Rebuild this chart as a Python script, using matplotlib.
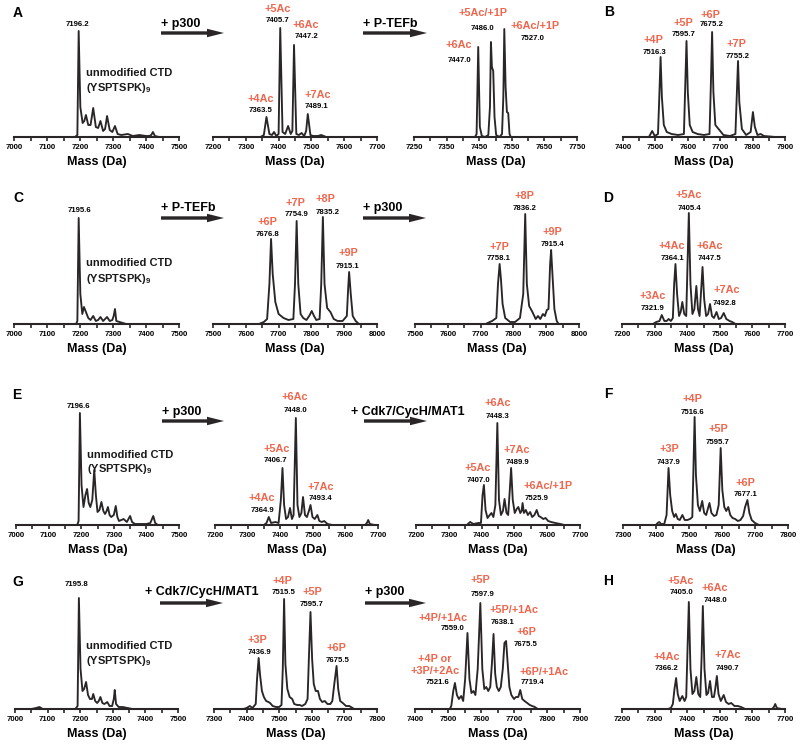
import matplotlib.pyplot as plt
from matplotlib.patches import FancyArrow

plt.rcParams['font.family'] = ['Liberation Sans', 'DejaVu Sans']
plt.rcParams['font.weight'] = 'bold'
plt.rcParams['mathtext.fontset'] = 'custom'
plt.rcParams['mathtext.rm'] = 'Liberation Sans:bold'
plt.rcParams['mathtext.bf'] = 'Liberation Sans:bold'

RED = '#f0664d'
INK = '#2a2627'

# ---- spectra: mass (Da) and relative intensity
a1_mass = [7185, 7192, 7196, 7201, 7208, 7213, 7218, 7225, 7232, 7240, 7248, 7255, 7262, 7270, 7276,
           7282, 7290, 7298, 7306, 7314, 7325, 7345, 7360, 7380, 7400, 7410, 7416, 7421, 7427, 7440]
a1_int = [0, 2, 106, 30, 14, 16, 22, 12, 12, 29, 10, 9, 16, 6, 8,
          21, 7, 5, 11, 3, 2, 3, 1, 2, 1, 1, 2, 5, 1, 0]

a2_mass = [7345, 7355, 7363, 7372, 7380, 7386, 7393, 7400, 7405, 7412, 7420, 7429, 7437, 7442, 7447,
           7454, 7462, 7470, 7478, 7484, 7489, 7497, 7505, 7520, 7530, 7545]
a2_int = [0, 2, 20, 3, 2, 5, 1, 3, 109, 5, 3, 11, 3, 6, 92,
          3, 2, 4, 1, 6, 23, 2, 1, 1, 2, 0]

a3_mass = [7437, 7442, 7447, 7452, 7458, 7468, 7478, 7483, 7486, 7489, 7493, 7497, 7502, 7512,
           7520, 7524, 7527, 7531, 7535, 7539, 7543, 7547]
a3_int = [0, 3, 90, 10, 1, 0, 2, 30, 95, 70, 66, 20, 2, 0,
          3, 40, 108, 50, 25, 24, 3, 0]

b_mass = [7480, 7490, 7498, 7508, 7512, 7516, 7520, 7526, 7535, 7550, 7570, 7588, 7592, 7596, 7600,
          7606, 7615, 7630, 7650, 7667, 7671, 7675, 7679, 7685, 7700, 7710, 7730, 7747, 7751, 7755,
          7759, 7767, 7780, 7794, 7801, 7807, 7815, 7825, 7835, 7870]
b_int = [0, 6, 1, 3, 40, 80, 40, 12, 5, 3, 2, 3, 50, 96, 45,
         12, 5, 3, 2, 3, 50, 105, 45, 12, 6, 2, 1, 3, 40, 76,
         35, 8, 2, 5, 25, 10, 2, 3, 1, 0]

c1_mass = [7188, 7192, 7196, 7201, 7207, 7212, 7218, 7225, 7232, 7240, 7248, 7255, 7262, 7270,
           7276, 7282, 7290, 7298, 7302, 7306, 7310, 7320, 7330, 7340]
c1_int = [0, 3, 106, 30, 10, 17, 12, 6, 4, 8, 3, 4, 7, 3,
          5, 7, 3, 4, 8, 15, 3, 2, 1, 0]

c2_mass = [7640, 7655, 7665, 7672, 7677, 7682, 7690, 7700, 7715, 7730, 7745, 7750, 7755, 7760,
           7767, 7775, 7785, 7795, 7801, 7808, 7815, 7825, 7830, 7835, 7840, 7848, 7858, 7868,
           7880, 7895, 7908, 7912, 7915, 7920, 7926, 7935, 7945]
c2_int = [0, 2, 5, 40, 85, 50, 22, 10, 6, 4, 5, 40, 103, 40,
          10, 6, 4, 9, 13, 8, 4, 5, 40, 107, 40, 16, 12, 5,
          3, 3, 8, 35, 52, 30, 8, 3, 0]

c3_mass = [7715, 7735, 7748, 7753, 7758, 7762, 7767, 7775, 7790, 7805, 7820, 7830, 7836, 7841,
           7848, 7858, 7868, 7875, 7882, 7890, 7896, 7902, 7907, 7912, 7915, 7919, 7925, 7932, 7938]
c3_int = [0, 3, 6, 40, 60, 45, 20, 6, 2, 2, 6, 30, 110, 40,
          18, 12, 5, 8, 5, 10, 8, 14, 15, 60, 74, 50, 15, 3, 0]

d_mass = [7295, 7305, 7315, 7322, 7330, 7337, 7343, 7350, 7356, 7360, 7364, 7369, 7375, 7380,
          7385, 7391, 7397, 7401, 7405, 7410, 7416, 7422, 7428, 7433, 7438, 7443, 7447, 7452,
          7458, 7464, 7470, 7476, 7482, 7490, 7497, 7504, 7512, 7520, 7530, 7538, 7548]
d_int = [0, 2, 3, 9, 3, 3, 5, 3, 6, 40, 60, 30, 8, 12,
         22, 10, 8, 60, 111, 40, 10, 15, 38, 15, 8, 35, 57, 25,
         8, 10, 20, 8, 6, 12, 5, 6, 11, 5, 3, 2, 0]

e1_mass = [7188, 7192, 7196, 7201, 7207, 7213, 7218, 7223, 7228, 7234, 7240, 7245, 7250, 7256,
           7262, 7268, 7273, 7278, 7282, 7287, 7292, 7300, 7306, 7311, 7316, 7323, 7330, 7340,
           7350, 7356, 7365, 7380, 7400, 7412, 7421, 7427, 7435]
e1_int = [0, 4, 112, 40, 18, 30, 36, 22, 18, 25, 55, 30, 13, 15,
          23, 14, 11, 14, 18, 10, 8, 10, 19, 8, 4, 5, 6, 3,
          9, 3, 1, 1, 1, 2, 9, 2, 0]

e2_mass = [7350, 7358, 7365, 7372, 7385, 7395, 7402, 7407, 7412, 7418, 7424, 7430, 7436, 7441,
           7448, 7453, 7459, 7465, 7470, 7476, 7482, 7488, 7493, 7499, 7506, 7514, 7520, 7528,
           7535, 7545, 7560, 7600, 7660, 7666, 7670, 7675, 7690]
e2_int = [0, 2, 8, 2, 3, 2, 25, 57, 20, 6, 8, 17, 6, 10,
          107, 20, 8, 12, 28, 10, 8, 14, 20, 8, 6, 10, 4, 3,
          4, 1, 0, 0, 0, 2, 5, 1, 0]

e3_mass = [7355, 7365, 7375, 7390, 7398, 7403, 7407, 7412, 7418, 7425, 7430, 7436, 7442, 7448,
           7453, 7459, 7465, 7470, 7476, 7481, 7486, 7490, 7495, 7501, 7507, 7512, 7518, 7522,
           7525, 7529, 7535, 7541, 7548, 7554, 7561, 7568, 7574, 7580, 7588, 7595, 7603, 7612,
           7625, 7640, 7652]
e3_int = [0, 3, 1, 2, 2, 30, 40, 15, 7, 10, 12, 8, 20, 102,
          25, 10, 14, 26, 12, 10, 35, 57, 25, 12, 16, 18, 12, 14,
          22, 12, 15, 10, 13, 8, 10, 15, 9, 8, 6, 7, 4, 3,
          2, 1, 0]

f_mass = [7400, 7405, 7410, 7415, 7425, 7432, 7438, 7443, 7449, 7455, 7460, 7466, 7472, 7480,
          7487, 7495, 7503, 7510, 7513, 7517, 7521, 7527, 7533, 7540, 7546, 7552, 7562, 7568,
          7576, 7583, 7590, 7596, 7601, 7607, 7613, 7619, 7625, 7632, 7640, 7648, 7656, 7664,
          7670, 7677, 7683, 7690, 7700, 7712]
f_int = [0, 2, 3, 1, 1, 10, 57, 30, 14, 8, 11, 6, 5, 10,
         5, 5, 6, 8, 50, 108, 50, 20, 14, 24, 12, 10, 22, 12,
         9, 10, 20, 77, 35, 18, 14, 18, 10, 7, 6, 4, 5, 9,
         18, 25, 12, 5, 2, 0]

g1_mass = [7050, 7065, 7075, 7085, 7185, 7192, 7196, 7201, 7207, 7212, 7218, 7224, 7230, 7236,
           7240, 7246, 7252, 7257, 7262, 7268, 7274, 7279, 7283, 7290, 7298, 7303, 7306, 7310,
           7318, 7330, 7345, 7360]
g1_int = [0, 1, 2, 0, 0, 3, 111, 40, 18, 20, 27, 14, 10, 10,
          15, 8, 6, 8, 12, 6, 5, 6, 7, 3, 3, 10, 19, 5,
          2, 2, 1, 0]

g2_mass = [7390, 7400, 7410, 7418, 7428, 7432, 7437, 7441, 7447, 7453, 7460, 7467, 7472, 7480,
           7490, 7500, 7507, 7511, 7515, 7519, 7525, 7532, 7540, 7546, 7555, 7563, 7570, 7580,
           7587, 7591, 7596, 7601, 7606, 7612, 7619, 7625, 7632, 7640, 7648, 7657, 7663, 7669,
           7676, 7681, 7687, 7695, 7705, 7715, 7730]
g2_int = [0, 1, 3, 1, 5, 30, 51, 35, 18, 12, 8, 7, 6, 3,
          2, 2, 4, 40, 110, 45, 20, 12, 10, 5, 4, 4, 3, 5,
          10, 50, 97, 50, 25, 18, 18, 10, 7, 8, 5, 5, 8, 25,
          43, 20, 8, 6, 3, 3, 0]

g3_mass = [7505, 7510, 7516, 7521, 7527, 7533, 7540, 7546, 7552, 7559, 7565, 7571, 7577, 7583,
           7590, 7598, 7604, 7610, 7616, 7622, 7628, 7633, 7638, 7643, 7648, 7654, 7660, 7666,
           7671, 7676, 7681, 7686, 7692, 7700, 7706, 7713, 7719, 7725, 7732, 7740, 7748, 7755,
           7763, 7772]
g3_int = [0, 3, 18, 26, 14, 10, 13, 8, 30, 76, 30, 16, 18, 14,
          40, 106, 40, 20, 22, 18, 22, 45, 75, 35, 22, 18, 22, 40,
          66, 68, 45, 22, 14, 10, 12, 12, 19, 10, 8, 6, 4, 3,
          2, 0]

h_mass = [7340, 7350, 7356, 7361, 7366, 7371, 7377, 7385, 7392, 7397, 7401, 7405, 7410, 7416,
          7422, 7428, 7434, 7440, 7444, 7448, 7453, 7459, 7464, 7470, 7476, 7482, 7486, 7491,
          7496, 7503, 7512, 7519, 7527, 7535, 7545, 7555, 7565, 7578, 7660, 7666, 7670, 7675, 7690]
h_int = [0, 1, 5, 20, 31, 15, 8, 13, 8, 12, 60, 107, 40, 15,
         18, 32, 15, 12, 50, 103, 40, 14, 16, 28, 12, 12, 20, 33,
         15, 8, 14, 7, 5, 6, 3, 3, 2, 0, 0, 2, 5, 1, 0]

# ---- peak annotations: modification and measured mass
a1_peaks = [('', '7196.2')]
a2_peaks = [('+4Ac', '7363.5'), ('+5Ac', '7405.7'), ('+6Ac', '7447.2'), ('+7Ac', '7489.1')]
a3_peaks = [('+6Ac', '7447.0'), ('+5Ac/+1P', '7486.0'), ('+6Ac/+1P', '7527.0')]
b_peaks = [('+4P', '7516.3'), ('+5P', '7595.7'), ('+6P', '7675.2'), ('+7P', '7755.2')]
c1_peaks = [('', '7195.6')]
c2_peaks = [('+6P', '7676.8'), ('+7P', '7754.9'), ('+8P', '7835.2'), ('+9P', '7915.1')]
c3_peaks = [('+7P', '7758.1'), ('+8P', '7836.2'), ('+9P', '7915.4')]
d_peaks = [('+3Ac', '7321.9'), ('+4Ac', '7364.1'), ('+5Ac', '7405.4'), ('+6Ac', '7447.5'), ('+7Ac', '7492.8')]
e1_peaks = [('', '7196.6')]
e2_peaks = [('+4Ac', '7364.9'), ('+5Ac', '7406.7'), ('+6Ac', '7448.0'), ('+7Ac', '7493.4')]
e3_peaks = [('+5Ac', '7407.0'), ('+6Ac', '7448.3'), ('+7Ac', '7489.9'), ('+6Ac/+1P', '7525.9')]
f_peaks = [('+3P', '7437.9'), ('+4P', '7516.6'), ('+5P', '7595.7'), ('+6P', '7677.1')]
g1_peaks = [('', '7195.8')]
g2_peaks = [('+3P', '7436.9'), ('+4P', '7515.5'), ('+5P', '7595.7'), ('+6P', '7675.5')]
g3_peaks = [('+4P or\n+3P/+2Ac', '7521.6'), ('+4P/+1Ac', '7559.0'), ('+5P', '7597.9'),
            ('+5P/+1Ac', '7638.1'), ('+6P', '7675.5'), ('+6P/+1Ac', '7719.4')]
h_peaks = [('+4Ac', '7366.2'), ('+5Ac', '7405.0'), ('+6Ac', '7448.0'), ('+7Ac', '7490.7')]

# label placement (x_red, y_red, x_num, y_num) in data units of each panel
a1_pos = [(0, 0, 7193, 113)]
a2_pos = [(7346, 38, 7346, 26), (7398, 128, 7398, 116), (7484, 112, 7484, 100), (7520, 42, 7514, 30)]
a3_pos = [(7388, 92, 7391, 76), (7462, 124, 7460, 108), (7621, 111, 7615, 98)]
b_pos = [(7493, 97, 7496, 84), (7586, 114, 7586, 102), (7670, 122, 7673, 112), (7750, 93, 7753, 81)]
c1_pos = [(0, 0, 7197, 113)]
c2_pos = [(7665, 102, 7665, 90), (7750, 121, 7756, 110), (7842, 125, 7851, 112), (7912, 71, 7909, 57)]
c3_pos = [(7756, 77, 7756, 65), (7835, 128, 7835, 115), (7918, 92, 7918, 80)]
d_pos = [(7295, 28, 7295, 16), (7354, 78, 7354, 65), (7406, 129, 7406, 116),
         (7470, 78, 7470, 65), (7522, 34, 7516, 21)]
e1_pos = [(0, 0, 7190, 118)]
e2_pos = [(7344, 27, 7347, 14), (7390, 76, 7387, 64), (7446, 128, 7446, 114), (7525, 38, 7525, 26)]
e3_pos = [(7389, 57, 7389, 45), (7450, 122, 7450, 109), (7508, 75, 7508, 62), (7603, 39, 7569, 27)]
f_pos = [(7442, 76, 7439, 63), (7509, 126, 7512, 113), (7588, 96, 7588, 83), (7670, 42, 7670, 30)]
g1_pos = [(0, 0, 7190, 125)]
g2_pos = [(7432, 69, 7438, 57), (7509, 128, 7515, 116), (7601, 117, 7598, 104), (7675, 61, 7678, 48)]
g3_pos = [(7461, 44, 7467, 26), (7485, 91, 7513, 80), (7598, 129, 7604, 114),
          (7699, 99, 7665, 86), (7739, 77, 7736, 65), (7790, 37, 7757, 26)]
h_pos = [(7338, 52, 7338, 40), (7381, 128, 7381, 116), (7486, 121, 7486, 108), (7525, 54, 7522, 41)]

# panel frame: (x min in Da, left px, right px, baseline px)
panels = [
    (a1_mass, a1_int, a1_peaks, a1_pos, (7000, 14, 179, 137)),
    (a2_mass, a2_int, a2_peaks, a2_pos, (7200, 213, 377, 137)),
    (a3_mass, a3_int, a3_peaks, a3_pos, (7250, 414, 577, 137)),
    (b_mass, b_int, b_peaks, b_pos, (7400, 623, 785, 137)),
    (c1_mass, c1_int, c1_peaks, c1_pos, (7000, 14, 179, 324)),
    (c2_mass, c2_int, c2_peaks, c2_pos, (7500, 213, 377, 324)),
    (c3_mass, c3_int, c3_peaks, c3_pos, (7500, 415, 579, 324)),
    (d_mass, d_int, d_peaks, d_pos, (7200, 622, 785, 324)),
    (e1_mass, e1_int, e1_peaks, e1_pos, (7000, 16, 179, 525)),
    (e2_mass, e2_int, e2_peaks, e2_pos, (7200, 215, 378, 525)),
    (e3_mass, e3_int, e3_peaks, e3_pos, (7200, 416, 580, 525)),
    (f_mass, f_int, f_peaks, f_pos, (7300, 623, 788, 525)),
    (g1_mass, g1_int, g1_peaks, g1_pos, (7000, 15, 178, 709)),
    (g2_mass, g2_int, g2_peaks, g2_pos, (7300, 214, 377, 709)),
    (g3_mass, g3_int, g3_peaks, g3_pos, (7400, 415, 580, 709)),
    (h_mass, h_int, h_peaks, h_pos, (7200, 622, 785, 709)),
]

W, H = 800, 746
fig = plt.figure(figsize=(W / 100, H / 100), dpi=100)

for mass, inten, peaks, pos, (xmin, x0, x1, yb) in panels:
    ax = fig.add_axes([x0 / W, 1 - yb / H, (x1 - x0) / W, 130 / H])
    ax.plot(mass, inten, color=INK, lw=1.35, solid_joinstyle='round')
    ax.set_xlim(xmin, xmin + 500)
    ax.set_ylim(0, 130)
    ax.patch.set_visible(False)
    for s in ['left', 'right', 'top']:
        ax.spines[s].set_visible(False)
    ax.spines['bottom'].set_linewidth(1.5)
    ax.spines['bottom'].set_color(INK)
    ax.set_yticks([])
    ax.set_xticks(range(xmin, xmin + 501, 100))
    ax.set_xticks(range(xmin + 50, xmin + 500, 100), minor=True)
    ax.tick_params(axis='x', which='both', direction='out', length=3.2, width=1.2,
                   color=INK, labelsize=5.6, pad=1.8, labelcolor='black')
    for (mod, num), (xr, yr, xn, yn) in zip(peaks, pos):
        if mod:
            ax.text(xr, yr, mod, color=RED, fontsize=7.8, fontweight='bold',
                    ha='center', va='center', linespacing=1.25)
        ax.text(xn, yn, num, color='black', fontsize=5.6, fontweight='bold',
                ha='center', va='center')
    if xmin == 7000:
        row_y = {137: (64, 49), 324: (61, 45), 525: (70, 56), 709: (63, 48)}[yb]
        ax.text(7218, row_y[0], 'unmodified CTD', fontsize=8, fontweight='bold',
                ha='left', va='center', color='#1a1a1a')
        ax.text(7218, row_y[1], r'(YSPTSPK)$_{\mathbf{9}}$', fontsize=8, fontweight='bold',
                ha='left', va='center', color='#1a1a1a')

# overlay in pixel coordinates for arrows, letters and axis titles
ov = fig.add_axes([0, 0, 1, 1])
ov.set_xlim(0, W)
ov.set_ylim(H, 0)
ov.axis('off')

for mass, inten, peaks, pos, (xmin, x0, x1, yb) in panels:
    ov.text((x0 + x1) / 2, yb + 25, 'Mass (Da)', fontsize=9, fontweight='bold',
            ha='center', va='center')

letters = [('A', 18, 13), ('B', 609, 12), ('C', 18, 198), ('D', 608, 198),
           ('E', 17, 395), ('F', 608, 394), ('G', 18, 582), ('H', 608, 581)]
for t, x, y in letters:
    ov.text(x, y, t, fontsize=10, fontweight='bold', ha='center', va='center')

arrows = [('+ p300', 161, 24, 161, 224, 33), ('+ P-TEFb', 363, 24, 363, 427, 33),
          ('+ P-TEFb', 161, 208, 161, 224, 218), ('+ p300', 363, 208, 363, 426, 218),
          ('+ p300', 162, 412, 162, 224, 421), ('+ Cdk7/CycH/MAT1', 351, 412, 364, 427, 421),
          ('+ Cdk7/CycH/MAT1', 145, 592, 160, 223, 603), ('+ p300', 365, 592, 365, 426, 603)]
for t, tx, ty, ax0, ax1, ay in arrows:
    ov.text(tx, ty, t, fontsize=9, fontweight='bold', ha='left', va='center')
    ov.add_patch(FancyArrow(ax0, ay, ax1 - ax0, 0, width=3.4, head_width=8.5, head_length=17,
                            length_includes_head=True, color=INK, lw=0))

fig.savefig('out.png', dpi=100)
